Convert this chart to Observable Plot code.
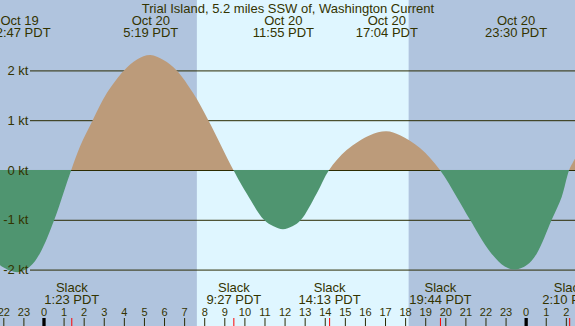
<!DOCTYPE html>
<html>
<head>
<meta charset="utf-8">
<script src="https://cdn.jsdelivr.net/npm/d3@7"></script>
<script src="https://cdn.jsdelivr.net/npm/@observablehq/plot@0.6"></script>
<style>
html, body { margin: 0; padding: 0; background: #b0c4de; }
#chart svg { display: block; }
</style>
</head>
<body>
<div id="chart"></div>
<script>
// ---- data ----
const title = "Trial Island, 5.2 miles SSW of, Washington Current";
// hours relative to Oct 20 00:00 PDT, current speed in knots
const curveHours = [-2.17, -1.667, -1.217, -0.672, -0.174, 0.538, 0.986, 1.383, 1.817, 2.449, 3.146, 4.007, 4.654, 5.317, 5.97, 6.63, 7.456, 8.203, 9.45, 10.114, 10.976, 11.45, 11.917, 12.39, 12.817, 13.6, 14.217, 15.09, 16.25, 17.067, 17.745, 18.74, 19.733, 20.567, 21.23, 22.225, 22.96, 23.5, 24.06, 24.549, 25.296, 25.794, 26.167, 26.46];
const curveKnots = [-1.91, -2.02, -2.05, -1.94, -1.67, -1.0, -0.47, 0, 0.47, 1.0, 1.54, 2.0, 2.22, 2.31, 2.21, 2.0, 1.54, 1.0, 0, -0.47, -1.0, -1.13, -1.19, -1.13, -1.0, -0.47, 0, 0.40, 0.70, 0.78, 0.70, 0.44, 0, -0.54, -1.0, -1.64, -1.94, -2.0, -1.91, -1.68, -1.0, -0.54, 0, 0.23];
const maxClock = ["22:47", "5:19", "11:55", "17:04", "23:30"];
const maxDay = [-1, 0, 0, 0, 0];
const maxDate = ["Oct 19", "Oct 20", "Oct 20", "Oct 20", "Oct 20"];
const slackClock = ["1:23", "9:27", "14:13", "19:44", "2:10"];
const slackDay = [0, 0, 0, 0, 1];
const knotTicks = [2, 1, 0, -1, -2];
const hourTicks = d3.range(-2, 27);
const sunClock = ["7:38", "18:11"];
const xDomain = [-2.165, 26.456];
const yDomain = [-3.133, 3.414];
const gridStart = -0.672;

// ---- styles ----
const night = "#b0c4de", day = "#dff6ff";
const floodFill = "#bc9b7a", ebbFill = "#4f9570";
const ink = "#333300", lineColor = "#2a2a00";

const toH = (c, d) => { const [h, m] = c.split(":").map(Number); return d * 24 + h + m / 60; };
const curve = curveHours.map((t, i) => ({t, v: curveKnots[i]}));
const sunrise = toH(sunClock[0], 0), sunset = toH(sunClock[1], 0);
const bands = [
  {x1: xDomain[0], x2: sunrise, fill: night},
  {x1: sunrise, x2: sunset, fill: day},
  {x1: sunset, x2: xDomain[1], fill: night}
];
const maxes = maxClock.map((c, i) => ({t: toH(c, maxDay[i]), date: maxDate[i], time: c + " PDT"}));
const slacks = slackClock.map((c, i) => ({t: toH(c, slackDay[i]), time: c + " PDT"}));
const midnights = hourTicks.filter(h => h % 24 === 0);

const svg = Plot.plot({
  width: 575,
  height: 326,
  margin: 0,
  x: {domain: xDomain, range: [0, 575], axis: null},
  y: {domain: yDomain, axis: null},
  style: {fontFamily: "'Liberation Sans', Arial, sans-serif", fontSize: "13px", color: ink, background: night, overflow: "hidden"},
  marks: [
    Plot.rect(bands, {x1: "x1", x2: "x2", fill: "fill"}),
    Plot.ruleY(knotTicks, {y: d => d, x1: gridStart, x2: xDomain[1], stroke: lineColor}),
    Plot.areaY(curve, {x: "t", y: "v", curve: "catmull-rom", fill: floodFill}),
    Plot.areaY(curve, {x: "t", y: "v", curve: "catmull-rom", fill: ebbFill}),
    Plot.text(knotTicks, {y: d => d, text: d => `${d} kt`, frameAnchor: "left", dx: 28, textAnchor: "end", lineAnchor: "middle", fill: ink}),
    Plot.text([title], {text: d => d, frameAnchor: "top", dy: 12, lineAnchor: "bottom", fill: ink}),
    Plot.text(maxes, {x: "t", text: "date", frameAnchor: "top", dy: 24, lineAnchor: "bottom", fill: ink}),
    Plot.text(maxes, {x: "t", text: "time", frameAnchor: "top", dy: 36, lineAnchor: "bottom", fill: ink}),
    Plot.text(slacks, {x: "t", text: () => "Slack", frameAnchor: "top", dy: 291.5, lineAnchor: "bottom", fill: ink}),
    Plot.text(slacks, {x: "t", text: "time", frameAnchor: "top", dy: 303.5, lineAnchor: "bottom", fill: ink}),
    Plot.text(hourTicks, {x: d => d, text: d => String(((d % 24) + 24) % 24), frameAnchor: "top", dy: 315.5, lineAnchor: "bottom", fontSize: 11, fill: ink}),
    Plot.ruleX(hourTicks, {x: d => d, insetTop: 318, stroke: lineColor}),
    Plot.ruleX(slacks, {x: "t", insetTop: 318, stroke: "#ff0000"}),
    Plot.ruleX(midnights, {x: d => d, insetTop: 318, stroke: "#000000", strokeWidth: 3.3})
  ]
});

// split the current area at slack water: flood above zero, ebb below
const y0 = svg.scale("y").apply(0);
const sel = d3.select(svg);
const defs = sel.insert("defs", ":first-child");
defs.append("clipPath").attr("id", "clip-flood").append("rect")
  .attr("x", -10).attr("y", -10).attr("width", 600).attr("height", y0 + 10);
defs.append("clipPath").attr("id", "clip-ebb").append("rect")
  .attr("x", -10).attr("y", y0).attr("width", 600).attr("height", 400);
sel.select(`g[fill="${floodFill}"]`).attr("clip-path", "url(#clip-flood)");
sel.select(`g[fill="${ebbFill}"]`).attr("clip-path", "url(#clip-ebb)");

document.getElementById("chart").appendChild(svg);
</script>
</body>
</html>
